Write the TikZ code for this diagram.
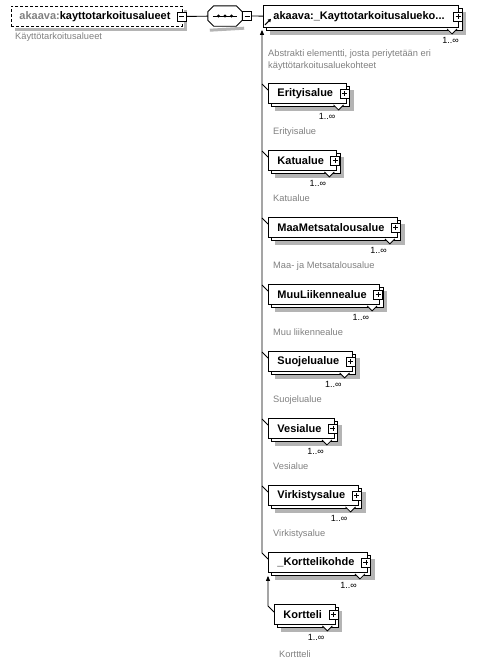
\documentclass[tikz,border=0pt]{standalone}
\usepackage{fontspec}
\setmainfont{Liberation Sans}
\usepackage{tikz}
\usepackage{xcolor}
\usetikzlibrary{positioning, arrows.meta}
\definecolor{xsgray}{RGB}{128, 128, 128}
\definecolor{xsshade}{RGB}{180, 180, 180}
\pgfdeclarelayer{back}
\pgfsetlayers{back,main}
\tikzset{
    xsbox/.style={draw, fill=white, line width=0.9pt, anchor=north west, minimum height=20pt,
        inner ysep=0pt, inner xsep=9pt, font=\fontsize{11}{13}\selectfont\bfseries,
        execute at end node={\hspace{4pt}}},
    elem/.style={xsbox},
    optel/.style={xsbox, dash pattern=on 3pt off 2pt},
    seqbox/.style={minimum width=34pt, minimum height=20pt, inner sep=0pt},
    minusbox/.style={draw, fill=white, line width=0.8pt, minimum size=9pt, inner sep=0pt,
        path picture={
            \draw ([xshift=2pt]path picture bounding box.west) -- ([xshift=-2pt]path picture bounding box.east);}},
    plusbox/.style={minusbox,
        path picture={
            \draw ([xshift=2pt]path picture bounding box.west) -- ([xshift=-2pt]path picture bounding box.east);
            \draw ([yshift=-2pt]path picture bounding box.north) -- ([yshift=2pt]path picture bounding box.south);}},
    mult/.style={inner sep=0pt, font=\fontsize{9}{10}\selectfont},
    note/.style={inner sep=0pt, text=xsgray, font=\fontsize{9.3}{12}\selectfont, align=left},
    link/.style={line width=0.9pt},
    subst/.style={link, {Triangle[length=5pt,width=4pt]}-},
    notch/.style={line width=0.8pt, fill=white},
    shadowline/.style={draw=xsshade, line width=4pt, line join=miter}
}
\begin{document}
\begin{tikzpicture}[x=1pt, y=-1pt]
    \useasboundingbox (0,0) rectangle (482,665);

    % global element and sequence
    \node[optel, inner xsep=8pt] (topel) at (11,6) {\textcolor{xsgray}{akaava:}kayttotarkoitusalueet};
    \node[minusbox] (topel-m) at ([xshift=-1pt]topel.east) {};
    \node[note, below right=6pt and 4pt of topel.south west] (topel-n) {Käyttötarkoitusalueet};
    \node[seqbox] (seq) at (225,16) {};
    \draw[link, fill=white] ([xshift=6pt]seq.north west) -- ([xshift=-6pt]seq.north east)
        -- ([yshift=-6pt]seq.north east) -- ([yshift=6pt]seq.south east)
        -- ([xshift=-6pt]seq.south east) -- ([xshift=6pt]seq.south west)
        -- ([yshift=6pt]seq.south west) -- ([yshift=-6pt]seq.north west) -- cycle;
    \draw[link] ([xshift=5pt]seq.west) -- ([xshift=-5pt]seq.east);
    \fill ([xshift=-6.5pt]seq.center) circle (1.6pt) (seq.center) circle (1.6pt) ([xshift=6.5pt]seq.center) circle (1.6pt);
    \node[minusbox, anchor=west] (seq-m) at (seq.east) {};
    \draw[link] (topel-m) -- (seq);

    % abstract head element
    \node[elem, inner xsep=10pt, minimum height=22pt] (kta) at (263,5) {akaava:\_Kayttotarkoitusalueko...};
    \draw[link] (seq-m) -- (kta);
    \node[plusbox] (kta-p) at ([xshift=-1pt]kta.east) {};
    \draw[notch] ([xshift=-12pt,yshift=-1pt]kta.south east) -- ++(5pt,-5pt) -- ++(5pt,5pt);
    \node[mult, below left=9pt and 0pt of kta.south east] (kta-m) {1..∞};
    \node[note, below right=22pt and 5pt of kta.south west] (kta-n) {Abstrakti elementti, josta periytetään eri\\käyttötarkoitusaluekohteet};
    \draw[line width=1pt, -{Triangle[length=3pt,width=3.5pt]}] ([xshift=2pt,yshift=3pt]kta.south west) -- ++(6pt,6pt);

    % substitution group members
    \node[elem] (eri) at (268,83) {Erityisalue};
    \node[plusbox] (eri-p) at ([xshift=-2pt]eri.east) {};
    \draw[notch] ([xshift=-13pt,yshift=-1pt]eri.south east) -- ++(5pt,-5pt) -- ++(5pt,5pt);
    \node[mult, below left=9pt and 11pt of eri.south east] (eri-m) {1..∞};
    \node[note, below right=24pt and 5pt of eri.south west] (eri-n) {Erityisalue};

    \node[elem] (katu) at (268,150) {Katualue};
    \node[plusbox] (katu-p) at ([xshift=-2pt]katu.east) {};
    \draw[notch] ([xshift=-13pt,yshift=-1pt]katu.south east) -- ++(5pt,-5pt) -- ++(5pt,5pt);
    \node[mult, below left=9pt and 11pt of katu.south east] (katu-m) {1..∞};
    \node[note, below right=24pt and 5pt of katu.south west] (katu-n) {Katualue};

    \node[elem] (maa) at (268,217) {MaaMetsatalousalue};
    \node[plusbox] (maa-p) at ([xshift=-2pt]maa.east) {};
    \draw[notch] ([xshift=-13pt,yshift=-1pt]maa.south east) -- ++(5pt,-5pt) -- ++(5pt,5pt);
    \node[mult, below left=9pt and 11pt of maa.south east] (maa-m) {1..∞};
    \node[note, below right=24pt and 5pt of maa.south west] (maa-n) {Maa- ja Metsatalousalue};

    \node[elem] (muu) at (268,284) {MuuLiikennealue};
    \node[plusbox] (muu-p) at ([xshift=-2pt]muu.east) {};
    \draw[notch] ([xshift=-13pt,yshift=-1pt]muu.south east) -- ++(5pt,-5pt) -- ++(5pt,5pt);
    \node[mult, below left=9pt and 11pt of muu.south east] (muu-m) {1..∞};
    \node[note, below right=24pt and 5pt of muu.south west] (muu-n) {Muu liikennealue};

    \node[elem] (suo) at (268,351) {Suojelualue};
    \node[plusbox] (suo-p) at ([xshift=-2pt]suo.east) {};
    \draw[notch] ([xshift=-13pt,yshift=-1pt]suo.south east) -- ++(5pt,-5pt) -- ++(5pt,5pt);
    \node[mult, below left=9pt and 11pt of suo.south east] (suo-m) {1..∞};
    \node[note, below right=24pt and 5pt of suo.south west] (suo-n) {Suojelualue};

    \node[elem] (vesi) at (268,418) {Vesialue};
    \node[plusbox] (vesi-p) at ([xshift=-2pt]vesi.east) {};
    \draw[notch] ([xshift=-13pt,yshift=-1pt]vesi.south east) -- ++(5pt,-5pt) -- ++(5pt,5pt);
    \node[mult, below left=9pt and 11pt of vesi.south east] (vesi-m) {1..∞};
    \node[note, below right=24pt and 5pt of vesi.south west] (vesi-n) {Vesialue};

    \node[elem] (virk) at (268,485) {Virkistysalue};
    \node[plusbox] (virk-p) at ([xshift=-2pt]virk.east) {};
    \draw[notch] ([xshift=-13pt,yshift=-1pt]virk.south east) -- ++(5pt,-5pt) -- ++(5pt,5pt);
    \node[mult, below left=9pt and 11pt of virk.south east] (virk-m) {1..∞};
    \node[note, below right=24pt and 5pt of virk.south west] (virk-n) {Virkistysalue};

    \node[elem] (kk) at (268,552) {\_Korttelikohde};
    \node[plusbox] (kk-p) at ([xshift=-2pt]kk.east) {};
    \draw[notch] ([xshift=-13pt,yshift=-1pt]kk.south east) -- ++(5pt,-5pt) -- ++(5pt,5pt);
    \node[mult, below left=9pt and 11pt of kk.south east] (kk-m) {1..∞};

    \node[elem] (kort) at (274,604) {Kortteli};
    \node[plusbox] (kort-p) at ([xshift=-2pt]kort.east) {};
    \draw[notch] ([xshift=-13pt,yshift=-1pt]kort.south east) -- ++(5pt,-5pt) -- ++(5pt,5pt);
    \node[mult, below left=9pt and 11pt of kort.south east] (kort-m) {1..∞};
    \node[note, below right=26pt and 5pt of kort.south west] (kort-n) {Korttteli};

    % connectors
    \draw[subst] ([xshift=-1pt,yshift=-2pt]kta.south west) -- ([xshift=-6pt,yshift=-1pt]kk.north west) -- ([yshift=-7pt]kk.north west);
    \draw[link] ([xshift=-6pt,yshift=-1pt]eri.north west) -- ([yshift=-7pt]eri.north west);
    \draw[link] ([xshift=-6pt,yshift=-1pt]katu.north west) -- ([yshift=-7pt]katu.north west);
    \draw[link] ([xshift=-6pt,yshift=-1pt]maa.north west) -- ([yshift=-7pt]maa.north west);
    \draw[link] ([xshift=-6pt,yshift=-1pt]muu.north west) -- ([yshift=-7pt]muu.north west);
    \draw[link] ([xshift=-6pt,yshift=-1pt]suo.north west) -- ([yshift=-7pt]suo.north west);
    \draw[link] ([xshift=-6pt,yshift=-1pt]vesi.north west) -- ([yshift=-7pt]vesi.north west);
    \draw[link] ([xshift=-6pt,yshift=-1pt]virk.north west) -- ([yshift=-7pt]virk.north west);
    \draw[subst] ([yshift=-3pt]kk.south west) -- ([xshift=-6pt,yshift=-2pt]kort.north west) -- ([yshift=-8pt]kort.north west);

    % shadows and stacked copies
    \begin{pgfonlayer}{back}
        \path[shadowline, line width=3pt] ([shift={(2.5pt,-4pt)}]topel.north east) -- ([shift={(2.5pt,-2.5pt)}]topel.south east) -- ([shift={(4pt,-2.5pt)}]topel.south west);
        \path[shadowline, line width=3pt] ([shift={(2pt,-4pt)}]seq.south west) -- ([shift={(2pt,-2pt)}]seq.south east);
        \foreach \n in {kta, eri, katu, maa, muu, suo, vesi, virk, kk, kort} {
            \path[shadowline] ([shift={(5pt,-7pt)}]\n.north east) -- ([shift={(5pt,-5pt)}]\n.south east) -- ([shift={(7pt,-5pt)}]\n.south west);
            \draw[link, fill=white] ([shift={(3pt,-3pt)}]\n.north west) rectangle ([shift={(3pt,-3pt)}]\n.south east);
        }
    \end{pgfonlayer}
\end{tikzpicture}
\end{document}
